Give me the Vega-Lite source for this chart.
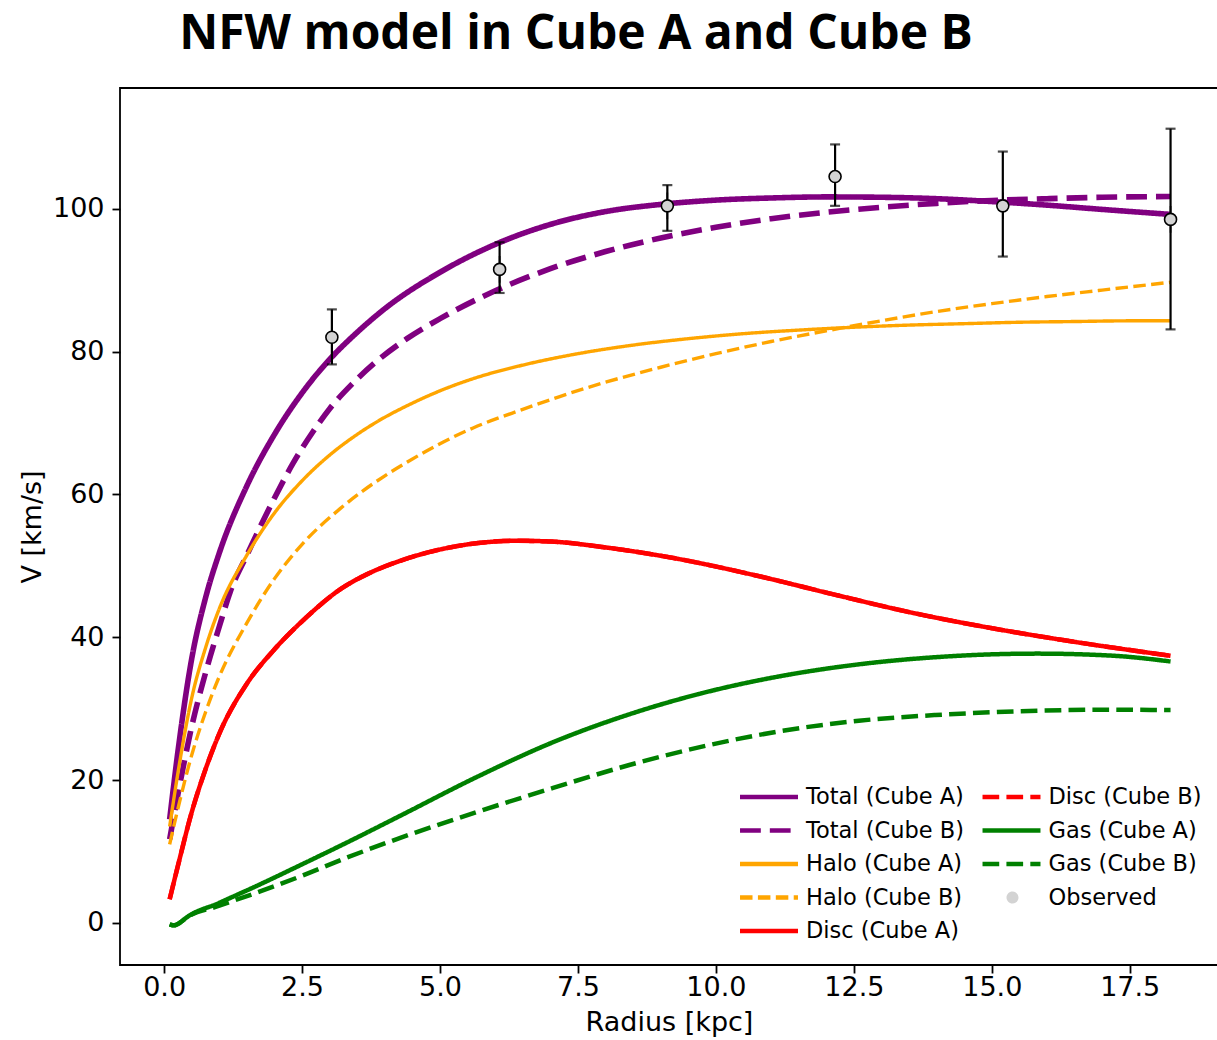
{
  "$schema": "https://vega.github.io/schema/vega-lite/v6.json",
  "width": 1098,
  "height": 877,
  "autosize": {"type": "none"},
  "padding": {"left": 120, "top": 88, "right": -1, "bottom": 75},
  "background": "white",
  "title": {
    "text": "NFW model in Cube A and Cube B",
    "font": "Open Sans",
    "fontSize": 48,
    "fontWeight": "bold",
    "color": "black",
    "anchor": "middle",
    "dx": -93,
    "offset": -9,
    "baseline": "alphabetic",
    "frame": "group"
  },
  "config": {
    "view": {"stroke": "black", "strokeWidth": 1.8},
    "axis": {
      "domain": false,
      "tickColor": "black",
      "tickWidth": 1.8,
      "tickSize": 8,
      "labelFont": "DejaVu Sans",
      "labelFontSize": 27,
      "labelColor": "black",
      "titleFont": "DejaVu Sans",
      "titleFontSize": 27,
      "titleFontWeight": "normal",
      "titleColor": "black",
      "grid": false
    }
  },
  "datasets": {
    "curves": [
      {"series": "Total (Cube A)", "r": 0.1, "v": 14.5},
      {"series": "Total (Cube A)", "r": 0.25, "v": 24.0},
      {"series": "Total (Cube A)", "r": 0.5, "v": 37.0},
      {"series": "Total (Cube A)", "r": 0.75, "v": 45.5},
      {"series": "Total (Cube A)", "r": 1.0, "v": 51.8},
      {"series": "Total (Cube A)", "r": 1.5, "v": 61.2},
      {"series": "Total (Cube A)", "r": 2.0, "v": 68.4},
      {"series": "Total (Cube A)", "r": 2.5, "v": 74.2},
      {"series": "Total (Cube A)", "r": 3.0, "v": 78.9},
      {"series": "Total (Cube A)", "r": 3.5, "v": 82.7},
      {"series": "Total (Cube A)", "r": 4.0, "v": 86.0},
      {"series": "Total (Cube A)", "r": 5.0, "v": 91.1},
      {"series": "Total (Cube A)", "r": 6.0, "v": 95.0},
      {"series": "Total (Cube A)", "r": 7.0, "v": 97.8},
      {"series": "Total (Cube A)", "r": 8.0, "v": 99.6},
      {"series": "Total (Cube A)", "r": 9.0, "v": 100.6},
      {"series": "Total (Cube A)", "r": 10.0, "v": 101.2},
      {"series": "Total (Cube A)", "r": 11.0, "v": 101.5},
      {"series": "Total (Cube A)", "r": 12.0, "v": 101.65},
      {"series": "Total (Cube A)", "r": 13.0, "v": 101.6},
      {"series": "Total (Cube A)", "r": 14.0, "v": 101.4},
      {"series": "Total (Cube A)", "r": 15.0, "v": 101.0},
      {"series": "Total (Cube A)", "r": 16.0, "v": 100.5},
      {"series": "Total (Cube A)", "r": 17.0, "v": 99.9},
      {"series": "Total (Cube A)", "r": 18.24, "v": 99.2},

      {"series": "Total (Cube B)", "r": 0.1, "v": 11.7},
      {"series": "Total (Cube B)", "r": 0.25, "v": 18.0},
      {"series": "Total (Cube B)", "r": 0.5, "v": 27.5},
      {"series": "Total (Cube B)", "r": 0.75, "v": 35.0},
      {"series": "Total (Cube B)", "r": 1.0, "v": 41.5},
      {"series": "Total (Cube B)", "r": 1.2, "v": 46.4},
      {"series": "Total (Cube B)", "r": 1.5, "v": 51.5},
      {"series": "Total (Cube B)", "r": 2.0, "v": 59.5},
      {"series": "Total (Cube B)", "r": 2.34, "v": 64.4},
      {"series": "Total (Cube B)", "r": 2.7, "v": 68.8},
      {"series": "Total (Cube B)", "r": 3.0, "v": 72.0},
      {"series": "Total (Cube B)", "r": 3.4, "v": 75.4},
      {"series": "Total (Cube B)", "r": 3.8, "v": 78.3},
      {"series": "Total (Cube B)", "r": 4.4, "v": 81.8},
      {"series": "Total (Cube B)", "r": 5.0, "v": 84.6},
      {"series": "Total (Cube B)", "r": 6.0, "v": 88.5},
      {"series": "Total (Cube B)", "r": 7.0, "v": 91.6},
      {"series": "Total (Cube B)", "r": 8.0, "v": 94.0},
      {"series": "Total (Cube B)", "r": 9.0, "v": 95.9},
      {"series": "Total (Cube B)", "r": 10.0, "v": 97.4},
      {"series": "Total (Cube B)", "r": 11.0, "v": 98.6},
      {"series": "Total (Cube B)", "r": 12.0, "v": 99.5},
      {"series": "Total (Cube B)", "r": 13.0, "v": 100.2},
      {"series": "Total (Cube B)", "r": 14.0, "v": 100.75},
      {"series": "Total (Cube B)", "r": 15.0, "v": 101.15},
      {"series": "Total (Cube B)", "r": 16.0, "v": 101.4},
      {"series": "Total (Cube B)", "r": 17.0, "v": 101.6},
      {"series": "Total (Cube B)", "r": 18.24, "v": 101.7},

      {"series": "Halo (Cube A)", "r": 0.1, "v": 13.5},
      {"series": "Halo (Cube A)", "r": 0.25, "v": 21.0},
      {"series": "Halo (Cube A)", "r": 0.5, "v": 31.5},
      {"series": "Halo (Cube A)", "r": 0.75, "v": 38.5},
      {"series": "Halo (Cube A)", "r": 1.0, "v": 44.0},
      {"series": "Halo (Cube A)", "r": 1.5, "v": 51.5},
      {"series": "Halo (Cube A)", "r": 2.0, "v": 57.4},
      {"series": "Halo (Cube A)", "r": 2.5, "v": 61.9},
      {"series": "Halo (Cube A)", "r": 3.0, "v": 65.5},
      {"series": "Halo (Cube A)", "r": 3.5, "v": 68.4},
      {"series": "Halo (Cube A)", "r": 4.0, "v": 70.8},
      {"series": "Halo (Cube A)", "r": 4.4, "v": 72.4},
      {"series": "Halo (Cube A)", "r": 5.0, "v": 74.5},
      {"series": "Halo (Cube A)", "r": 5.6, "v": 76.2},
      {"series": "Halo (Cube A)", "r": 6.5, "v": 78.1},
      {"series": "Halo (Cube A)", "r": 7.5, "v": 79.7},
      {"series": "Halo (Cube A)", "r": 8.5, "v": 80.9},
      {"series": "Halo (Cube A)", "r": 9.5, "v": 81.8},
      {"series": "Halo (Cube A)", "r": 10.5, "v": 82.5},
      {"series": "Halo (Cube A)", "r": 11.5, "v": 83.0},
      {"series": "Halo (Cube A)", "r": 12.5, "v": 83.4},
      {"series": "Halo (Cube A)", "r": 13.5, "v": 83.7},
      {"series": "Halo (Cube A)", "r": 14.5, "v": 83.9},
      {"series": "Halo (Cube A)", "r": 15.5, "v": 84.1},
      {"series": "Halo (Cube A)", "r": 16.5, "v": 84.2},
      {"series": "Halo (Cube A)", "r": 17.5, "v": 84.3},
      {"series": "Halo (Cube A)", "r": 18.24, "v": 84.3},

      {"series": "Halo (Cube B)", "r": 0.1, "v": 11.0},
      {"series": "Halo (Cube B)", "r": 0.25, "v": 16.0},
      {"series": "Halo (Cube B)", "r": 0.5, "v": 23.5},
      {"series": "Halo (Cube B)", "r": 0.75, "v": 29.5},
      {"series": "Halo (Cube B)", "r": 1.0, "v": 34.5},
      {"series": "Halo (Cube B)", "r": 1.5, "v": 42.0},
      {"series": "Halo (Cube B)", "r": 2.0, "v": 48.2},
      {"series": "Halo (Cube B)", "r": 2.5, "v": 53.0},
      {"series": "Halo (Cube B)", "r": 3.19, "v": 58.0},
      {"series": "Halo (Cube B)", "r": 4.0, "v": 62.6},
      {"series": "Halo (Cube B)", "r": 4.4, "v": 64.5},
      {"series": "Halo (Cube B)", "r": 5.0, "v": 67.1},
      {"series": "Halo (Cube B)", "r": 5.6, "v": 69.3},
      {"series": "Halo (Cube B)", "r": 6.5, "v": 71.9},
      {"series": "Halo (Cube B)", "r": 7.17, "v": 73.7},
      {"series": "Halo (Cube B)", "r": 8.0, "v": 75.7},
      {"series": "Halo (Cube B)", "r": 9.0, "v": 77.8},
      {"series": "Halo (Cube B)", "r": 10.0, "v": 79.7},
      {"series": "Halo (Cube B)", "r": 11.0, "v": 81.4},
      {"series": "Halo (Cube B)", "r": 12.0, "v": 82.9},
      {"series": "Halo (Cube B)", "r": 13.0, "v": 84.3},
      {"series": "Halo (Cube B)", "r": 14.0, "v": 85.6},
      {"series": "Halo (Cube B)", "r": 15.0, "v": 86.7},
      {"series": "Halo (Cube B)", "r": 16.0, "v": 87.7},
      {"series": "Halo (Cube B)", "r": 17.0, "v": 88.6},
      {"series": "Halo (Cube B)", "r": 18.24, "v": 89.7},

      {"series": "Disc (Cube A)", "r": 0.1, "v": 3.3},
      {"series": "Disc (Cube A)", "r": 0.25, "v": 8.0},
      {"series": "Disc (Cube A)", "r": 0.5, "v": 15.5},
      {"series": "Disc (Cube A)", "r": 0.75, "v": 21.5},
      {"series": "Disc (Cube A)", "r": 1.0, "v": 26.5},
      {"series": "Disc (Cube A)", "r": 1.5, "v": 33.5},
      {"series": "Disc (Cube A)", "r": 2.0, "v": 38.3},
      {"series": "Disc (Cube A)", "r": 2.58, "v": 42.8},
      {"series": "Disc (Cube A)", "r": 3.19, "v": 46.7},
      {"series": "Disc (Cube A)", "r": 3.7, "v": 48.9},
      {"series": "Disc (Cube A)", "r": 4.28, "v": 50.7},
      {"series": "Disc (Cube A)", "r": 5.2, "v": 52.6},
      {"series": "Disc (Cube A)", "r": 6.4, "v": 53.5},
      {"series": "Disc (Cube A)", "r": 7.0, "v": 53.4},
      {"series": "Disc (Cube A)", "r": 7.97, "v": 52.6},
      {"series": "Disc (Cube A)", "r": 9.36, "v": 50.9},
      {"series": "Disc (Cube A)", "r": 10.75, "v": 48.6},
      {"series": "Disc (Cube A)", "r": 12.13, "v": 46.0},
      {"series": "Disc (Cube A)", "r": 13.51, "v": 43.5},
      {"series": "Disc (Cube A)", "r": 14.9, "v": 41.4},
      {"series": "Disc (Cube A)", "r": 16.29, "v": 39.6},
      {"series": "Disc (Cube A)", "r": 18.24, "v": 37.4},

      {"series": "Disc (Cube B)", "r": 0.1, "v": 3.3},
      {"series": "Disc (Cube B)", "r": 0.25, "v": 8.0},
      {"series": "Disc (Cube B)", "r": 0.5, "v": 15.5},
      {"series": "Disc (Cube B)", "r": 0.75, "v": 21.5},
      {"series": "Disc (Cube B)", "r": 1.0, "v": 26.5},
      {"series": "Disc (Cube B)", "r": 1.5, "v": 33.5},
      {"series": "Disc (Cube B)", "r": 2.0, "v": 38.3},
      {"series": "Disc (Cube B)", "r": 2.58, "v": 42.8},
      {"series": "Disc (Cube B)", "r": 3.19, "v": 46.7},
      {"series": "Disc (Cube B)", "r": 3.7, "v": 48.9},
      {"series": "Disc (Cube B)", "r": 4.28, "v": 50.7},
      {"series": "Disc (Cube B)", "r": 5.2, "v": 52.6},
      {"series": "Disc (Cube B)", "r": 6.4, "v": 53.5},
      {"series": "Disc (Cube B)", "r": 7.0, "v": 53.4},
      {"series": "Disc (Cube B)", "r": 7.97, "v": 52.6},
      {"series": "Disc (Cube B)", "r": 9.36, "v": 50.9},
      {"series": "Disc (Cube B)", "r": 10.75, "v": 48.6},
      {"series": "Disc (Cube B)", "r": 12.13, "v": 46.0},
      {"series": "Disc (Cube B)", "r": 13.51, "v": 43.5},
      {"series": "Disc (Cube B)", "r": 14.9, "v": 41.4},
      {"series": "Disc (Cube B)", "r": 16.29, "v": 39.6},
      {"series": "Disc (Cube B)", "r": 18.24, "v": 37.4},

      {"series": "Gas (Cube A)", "r": 0.1, "v": -0.2},
      {"series": "Gas (Cube A)", "r": 0.18, "v": -0.35},
      {"series": "Gas (Cube A)", "r": 0.3, "v": 0.1},
      {"series": "Gas (Cube A)", "r": 0.38, "v": 0.6},
      {"series": "Gas (Cube A)", "r": 1.0, "v": 2.8},
      {"series": "Gas (Cube A)", "r": 1.74, "v": 5.4},
      {"series": "Gas (Cube A)", "r": 2.5, "v": 8.2},
      {"series": "Gas (Cube A)", "r": 3.3, "v": 11.2},
      {"series": "Gas (Cube A)", "r": 4.28, "v": 15.0},
      {"series": "Gas (Cube A)", "r": 5.66, "v": 20.4},
      {"series": "Gas (Cube A)", "r": 7.05, "v": 25.3},
      {"series": "Gas (Cube A)", "r": 8.43, "v": 29.2},
      {"series": "Gas (Cube A)", "r": 9.82, "v": 32.3},
      {"series": "Gas (Cube A)", "r": 11.21, "v": 34.6},
      {"series": "Gas (Cube A)", "r": 12.59, "v": 36.2},
      {"series": "Gas (Cube A)", "r": 13.98, "v": 37.2},
      {"series": "Gas (Cube A)", "r": 15.0, "v": 37.6},
      {"series": "Gas (Cube A)", "r": 15.83, "v": 37.7},
      {"series": "Gas (Cube A)", "r": 17.21, "v": 37.4},
      {"series": "Gas (Cube A)", "r": 18.24, "v": 36.6},

      {"series": "Gas (Cube B)", "r": 0.1, "v": -0.2},
      {"series": "Gas (Cube B)", "r": 0.18, "v": -0.35},
      {"series": "Gas (Cube B)", "r": 0.3, "v": 0.1},
      {"series": "Gas (Cube B)", "r": 0.38, "v": 0.6},
      {"series": "Gas (Cube B)", "r": 1.0, "v": 2.4},
      {"series": "Gas (Cube B)", "r": 1.74, "v": 4.4},
      {"series": "Gas (Cube B)", "r": 2.5, "v": 6.6},
      {"series": "Gas (Cube B)", "r": 3.3, "v": 9.1},
      {"series": "Gas (Cube B)", "r": 4.28, "v": 11.9},
      {"series": "Gas (Cube B)", "r": 5.66, "v": 15.5},
      {"series": "Gas (Cube B)", "r": 7.05, "v": 18.9},
      {"series": "Gas (Cube B)", "r": 8.43, "v": 22.1},
      {"series": "Gas (Cube B)", "r": 9.82, "v": 24.8},
      {"series": "Gas (Cube B)", "r": 11.21, "v": 26.9},
      {"series": "Gas (Cube B)", "r": 12.59, "v": 28.3},
      {"series": "Gas (Cube B)", "r": 13.98, "v": 29.1},
      {"series": "Gas (Cube B)", "r": 15.83, "v": 29.7},
      {"series": "Gas (Cube B)", "r": 17.0, "v": 29.85},
      {"series": "Gas (Cube B)", "r": 18.24, "v": 29.8}
    ],
    "obs": [
      {"r": 3.04, "v": 82.0, "lo": 78.2, "hi": 85.9},
      {"r": 6.08, "v": 91.5, "lo": 88.2, "hi": 95.3},
      {"r": 9.12, "v": 100.4, "lo": 96.9, "hi": 103.3},
      {"r": 12.16, "v": 104.5, "lo": 100.4, "hi": 109.0},
      {"r": 15.2, "v": 100.4, "lo": 93.3, "hi": 108.0},
      {"r": 18.24, "v": 98.5, "lo": 83.1, "hi": 111.2}
    ]
  },
  "layer": [
    {
      "data": {"name": "curves"},
      "mark": {"type": "line", "interpolate": "monotone"},
      "encoding": {
        "x": {
          "field": "r", "type": "quantitative",
          "scale": {"domain": [-0.8, 19.1], "nice": false, "zero": false},
          "axis": {"title": "Radius [kpc]", "values": [0, 2.5, 5, 7.5, 10, 12.5, 15, 17.5], "format": ".1f", "labelPadding": 1, "titlePadding": 9, "labelFlush": false, "labelOverlap": false}
        },
        "y": {
          "field": "v", "type": "quantitative",
          "scale": {"domain": [-5.9, 116.9], "nice": false, "zero": false},
          "axis": {"title": "V [km/s]", "values": [0, 20, 40, 60, 80, 100], "format": "d", "labelPadding": 8, "titlePadding": 6, "labelFlush": false, "labelOverlap": false}
        },
        "color": {
          "field": "series", "type": "nominal",
          "scale": {
            "domain": ["Total (Cube A)", "Total (Cube B)", "Halo (Cube A)", "Halo (Cube B)", "Disc (Cube A)", "Disc (Cube B)", "Gas (Cube A)", "Gas (Cube B)", "Observed"],
            "range": ["#800080", "#800080", "#ffa500", "#ffa500", "#ff0000", "#ff0000", "#008000", "#008000", "transparent"]
          },
          "legend": {
            "title": null, "orient": "none", "legendX": 637.5, "legendY": 697.5, "columns": 2, "columnPadding": 8.5, "rowPadding": 10.5,
            "symbolType": "M-3.22,0H3.22", "symbolSize": 324, "symbolStrokeWidth": 4.5,
            "labelFont": "DejaVu Sans", "labelFontSize": 22.5, "labelColor": "black", "labelOffset": 25.5, "labelLimit": 400
          }
        },
        "strokeDash": {
          "field": "series", "type": "nominal",
          "scale": {
            "domain": ["Total (Cube A)", "Total (Cube B)", "Halo (Cube A)", "Halo (Cube B)", "Disc (Cube A)", "Disc (Cube B)", "Gas (Cube A)", "Gas (Cube B)", "Observed"],
            "range": [[1, 0], [20.8, 9], [1, 0], [12.5, 5.4], [1, 0], [16.7, 7.2], [1, 0], [16.7, 7.2], [1, 0]]
          },
          "legend": {
            "title": null, "orient": "none", "legendX": 637.5, "legendY": 697.5, "columns": 2, "columnPadding": 8.5, "rowPadding": 10.5,
            "symbolType": "M-3.22,0H3.22", "symbolSize": 324, "symbolStrokeWidth": 4.5,
            "labelFont": "DejaVu Sans", "labelFontSize": 22.5, "labelColor": "black", "labelOffset": 25.5, "labelLimit": 400
          }
        },
        "strokeWidth": {
          "condition": [
            {"test": "indexof(datum.series,'Total')===0", "value": 5.6},
            {"test": "indexof(datum.series,'Halo')===0", "value": 3.4}
          ],
          "value": 4.5
        }
      }
    },
    {
      "data": {"name": "obs"},
      "mark": {"type": "rule", "color": "black", "strokeWidth": 2.2},
      "encoding": {
        "x": {"field": "r", "type": "quantitative"},
        "y": {"field": "lo", "type": "quantitative"},
        "y2": {"field": "hi"}
      }
    },
    {
      "data": {"name": "obs"},
      "mark": {"type": "tick", "orient": "horizontal", "color": "black", "size": 10, "thickness": 2.2},
      "encoding": {
        "x": {"field": "r", "type": "quantitative"},
        "y": {"field": "lo", "type": "quantitative"}
      }
    },
    {
      "data": {"name": "obs"},
      "mark": {"type": "tick", "orient": "horizontal", "color": "black", "size": 10, "thickness": 2.2},
      "encoding": {
        "x": {"field": "r", "type": "quantitative"},
        "y": {"field": "hi", "type": "quantitative"}
      }
    },
    {
      "data": {"name": "obs"},
      "mark": {"type": "point", "filled": false, "fill": "#d3d3d3", "stroke": "black", "strokeWidth": 1.6, "size": 711, "opacity": 1},
      "encoding": {
        "x": {"field": "r", "type": "quantitative"},
        "y": {"field": "v", "type": "quantitative"},
        "shape": {
          "datum": "Observed", "type": "nominal",
          "scale": {"domain": ["Observed"], "range": ["M0,-1V-0.45M0,0.45V1M0.45,0A0.45,0.45 0 1,0 -0.45,0A0.45,0.45 0 1,0 0.45,0Z"]},
          "legend": {"title": null, "orient": "none", "legendX": 878, "legendY": 795, "symbolSize": 711, "symbolStrokeWidth": 1.8, "symbolFillColor": "#d3d3d3", "symbolStrokeColor": "black", "symbolOpacity": 1, "labelExpr": "''", "labelFontSize": 1}
        }
      }
    }
  ]
}
